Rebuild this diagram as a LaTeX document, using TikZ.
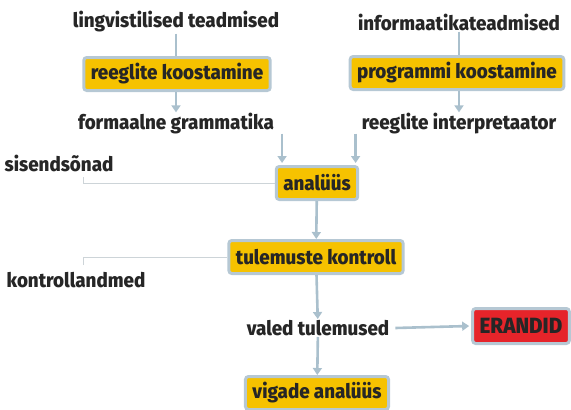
\documentclass[tikz,border=0pt]{standalone}
\usepackage{fontspec}
\setmainfont{Fira Sans}[FakeStretch=0.94,BoldFont={Fira Sans ExtraBold}]
\usepackage{tikz}
\usetikzlibrary{arrows.meta,positioning,calc}
\definecolor{boxyellow}{RGB}{246,194,0}
\definecolor{boxred}{RGB}{230,36,42}
\definecolor{boxedge}{RGB}{182,200,212}
\definecolor{flowblue}{RGB}{170,192,205}
\definecolor{feedgray}{RGB}{205,212,216}
\definecolor{inkdark}{RGB}{38,38,38}

\begin{document}
\begin{tikzpicture}[
  x=1pt,y=-1pt,
  every node/.style={font=\fontsize{20}{22}\selectfont\bfseries,text=inkdark},
  procbox/.style={draw=boxedge,fill=boxyellow,line width=3pt,rounded corners=3pt,
                  inner xsep=7pt,inner ysep=3pt,minimum height=33pt},
  errbox/.style={procbox,fill=boxred,font=\fontsize{22}{24}\selectfont\bfseries,
                 inner xsep=7pt,minimum height=35pt},
  lbl/.style={inner sep=1pt},
  flow/.style={draw=flowblue,line width=2.6pt,-{Triangle[width=9pt,length=7pt]}},
  link/.style={draw=flowblue,line width=2.6pt},
  feed/.style={draw=feedgray,line width=0.9pt},
]
  \useasboundingbox (0,0) rectangle (571,410);

  % Sources
  \node[lbl] (ling) at (176,22) {lingvistilised teadmised};
  \node[lbl] (info) at (459,22) {informaatikateadmised};

  % Construction steps
  \node[procbox] (rk) at (177,74) {reeglite koostamine};
  \node[procbox] (pk) at (457,73) {programmi koostamine};

  % Products
  \node[lbl] (fg) at (176,124) {formaalne grammatika};
  \node[lbl] (ri) at (459,124) {reeglite interpretaator};

  % Side inputs
  \node[lbl] (sis) at (59,163) {sisendsõnad};
  \node[lbl] (kon) at (76,280) {kontrollandmed};

  % Main chain
  \node[procbox] (an) at (317,183) {analüüs};
  \node[procbox] (tk) at (316,257) {tulemuste kontroll};
  \node[lbl] (vt) at (318,328) {valed tulemused};
  \node[errbox] (er) at (521,326) {ERANDID};
  \node[procbox] (va) at (317,393) {vigade analüüs};

  \coordinate (sisend) at (83,177);
  \coordinate (konend) at (83,265);

  % Connectors
  \draw[link] (ling.south) -- (ling.south |- rk.north);
  \draw[link] (info.south) -- (info.south |- pk.north);
  \draw[flow] (rk.south -| ling) -- (fg.north -| ling);
  \draw[flow] (pk.south -| info) -- (ri.north -| info);
  \draw[flow] ([xshift=7pt,yshift=2pt]fg.south east) -- ([xshift=7pt,yshift=2pt]fg.south east |- an.north);
  \draw[flow] ([xshift=-5pt,yshift=2pt]ri.south west) -- ([xshift=-5pt,yshift=2pt]ri.south west |- an.north);
  \draw[feed] (sisend) -- (sisend |- an.west) -- (an.west);
  \draw[feed] (konend) -- (konend |- tk.west) -- (tk.west);
  \draw[flow] (an) -- (tk);
  \draw[flow] (tk) -- (vt);
  \draw[flow] ([xshift=5pt]vt.east) -- ([xshift=-2pt]er.west);
  \draw[flow] (vt) -- (va);
\end{tikzpicture}
\end{document}
